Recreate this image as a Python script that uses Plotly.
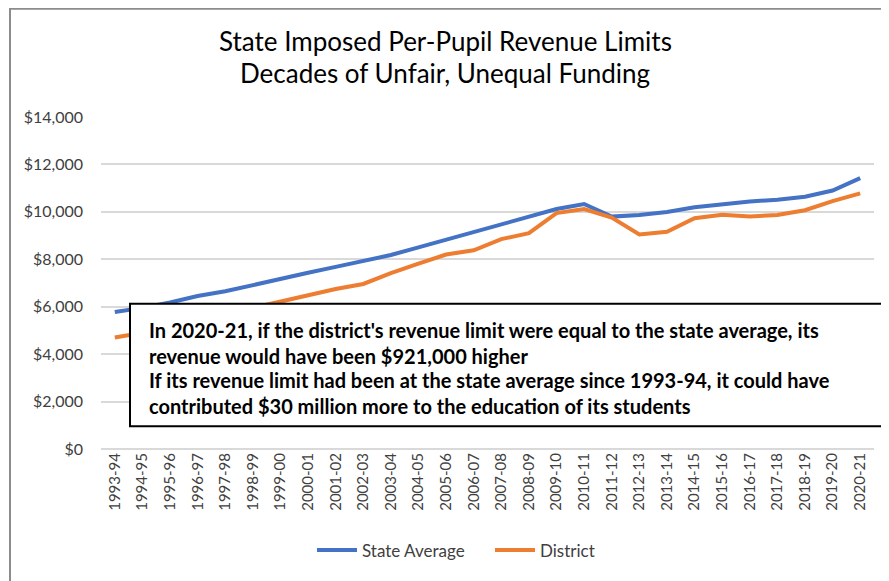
import plotly.graph_objects as go

years = ["1993-94","1994-95","1995-96","1996-97","1997-98","1998-99","1999-00","2000-01",
         "2001-02","2002-03","2003-04","2004-05","2005-06","2006-07","2007-08","2008-09",
         "2009-10","2010-11","2011-12","2012-13","2013-14","2014-15","2015-16","2016-17",
         "2017-18","2018-19","2019-20","2020-21"]
state_avg = [5780, 5950, 6180, 6450, 6650, 6920, 7180, 7430, 7680, 7930, 8180, 8500, 8830, 9150,
             9480, 9800, 10120, 10330, 9800, 9870, 9990, 10190, 10310, 10440, 10510, 10640, 10900, 11420]
district = [4700, 4900, 5150, 5400, 5650, 5950, 6230, 6500, 6750, 6960, 7420, 7820, 8200, 8380,
            8850, 9100, 9950, 10120, 9760, 9050, 9160, 9730, 9880, 9800, 9870, 10070, 10450, 10780]
y_ticks = [0, 2000, 4000, 6000, 8000, 10000, 12000, 14000]
title_lines = ["State Imposed Per-Pupil Revenue Limits", "Decades of Unfair, Unequal Funding"]
note_lines = [
    "In 2020-21, if the district's revenue limit were equal to the state average, its",
    "revenue would have been $921,000 higher",
    "If its revenue limit had been at the state average since 1993-94, it could have",
    "contributed $30 million more to the education of its students",
]

FONT = "Lato"
OFF = 8  # page body margin
W, H = 889 - OFF, 581 - OFF
# plot area in screen pixels
L, R, T, B = 101, 874, 117, 451
pw, ph = R - L, B - T

def px(x):
    return (x - L) / pw

def py(y):
    return (B - y) / ph

fig = go.Figure()
fig.add_trace(go.Scatter(x=years, y=state_avg, mode="lines", name="State Average",
                         line=dict(color="#4472C4", width=4), legend="legend"))
fig.add_trace(go.Scatter(x=years, y=district, mode="lines", name="District",
                         line=dict(color="#ED7D31", width=4), legend="legend2"))

shapes = [
    dict(type="rect", xref="paper", yref="paper", x0=px(10), x1=px(900), y0=py(600), y1=py(8),
         line=dict(color="#8c8c8c", width=2), fillcolor="rgba(0,0,0,0)", layer="below"),
    dict(type="rect", xref="paper", yref="paper", x0=px(130), x1=px(884), y0=py(428), y1=py(305),
         line=dict(color="black", width=2), fillcolor="white", layer="above"),
]

annotations = []
for i, t in enumerate(title_lines):
    annotations.append(dict(text=t, xref="paper", yref="paper", x=px(445), y=py([41, 73][i]),
                            xanchor="center", yanchor="middle", showarrow=False,
                            font=dict(family=FONT, size=26, color="#000000")))
for i, t in enumerate(note_lines):
    annotations.append(dict(text="<b>" + t + "</b>", xref="paper", yref="paper", x=px(147),
                            y=py([331, 357, 382, 408][i]), xanchor="left", yanchor="middle",
                            showarrow=False, font=dict(family=FONT, size=20, color="#000000")))

legend_style = dict(orientation="h", yanchor="middle", y=py(553), xanchor="left",
                    font=dict(family=FONT, size=17, color="#404040"), itemwidth=40,
                    bgcolor="rgba(0,0,0,0)")

fig.update_layout(
    width=W, height=H,
    margin=dict(l=L - OFF, r=W - (R - OFF), t=T - OFF, b=H - (B - OFF)),
    paper_bgcolor="white", plot_bgcolor="white",
    font=dict(family=FONT, color="#595959", size=13),
    showlegend=True,
    legend=dict(legend_style, x=px(312)),
    legend2=dict(legend_style, x=px(490)),
    xaxis=dict(type="category", range=[-0.5, len(years) - 0.5], tickangle=-90,
               showgrid=False, showline=False, ticks="", tickfont=dict(size=15, color="#404040")),
    yaxis=dict(range=[0, 14000], tickvals=y_ticks, tickformat="$,.0f", showgrid=True,
               gridcolor="#d9d9d9", gridwidth=1.5, zeroline=True, zerolinecolor="#d9d9d9",
               zerolinewidth=1.5, ticks="", ticklabelstandoff=17,
               tickfont=dict(size=16, color="#404040")),
    shapes=shapes,
    annotations=annotations,
)

fig.write_html("out.html")
